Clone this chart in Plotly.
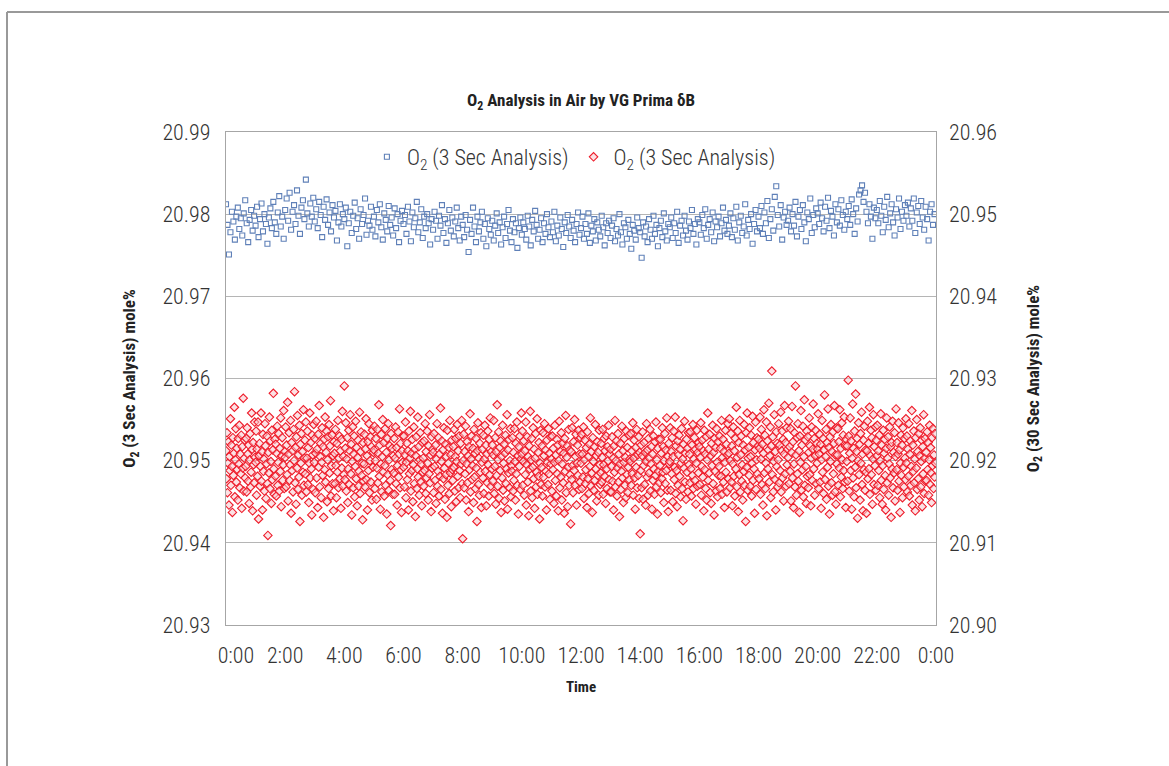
import plotly.graph_objects as go

# ---------------- data ----------------
x_tick_hours = [0, 2, 4, 6, 8, 10, 12, 14, 16, 18, 20, 22, 24]
x_tick_labels = ["\u00a0\u00a0\u00a0\u00a00:00", "2:00", "4:00", "6:00", "8:00", "10:00", "12:00",
                 "14:00", "16:00", "18:00", "20:00", "22:00", "0:00"]

left_ticks = [20.93, 20.94, 20.95, 20.96, 20.97, 20.98, 20.99]
right_ticks = [20.90, 20.91, 20.92, 20.93, 20.94, 20.95, 20.96]

# blue series (right axis, mole%), 20 readings per hour
blue_values = [
    20.9512, 20.9487, 20.9451, 20.9478, 20.9503, 20.9491, 20.9469, 20.9497, 20.9508, 20.9482, 20.9495, 20.9474, 20.9501, 20.9517, 20.9489, 20.9466, 20.9493, 20.9505, 20.9480, 20.9498,
    20.9486, 20.9509, 20.9472, 20.9494, 20.9513, 20.9479, 20.9500, 20.9488, 20.9464, 20.9496, 20.9507, 20.9483, 20.9515, 20.9490, 20.9476, 20.9502, 20.9522, 20.9485, 20.9497, 20.9470,
    20.9505, 20.9519, 20.9492, 20.9526, 20.9481, 20.9503, 20.9511, 20.9488, 20.9529, 20.9498, 20.9476, 20.9508, 20.9517, 20.9494, 20.9542, 20.9501, 20.9485, 20.9513, 20.9497, 20.9520,
    20.9491, 20.9506, 20.9483, 20.9515, 20.9499, 20.9472, 20.9509, 20.9493, 20.9518, 20.9487, 20.9502, 20.9479, 20.9511, 20.9496, 20.9504, 20.9468, 20.9490, 20.9512, 20.9485, 20.9500,
    20.9494, 20.9508, 20.9461, 20.9489, 20.9503, 20.9477, 20.9498, 20.9514, 20.9482, 20.9495, 20.9470, 20.9506, 20.9488, 20.9499, 20.9519, 20.9475, 20.9492, 20.9486, 20.9509, 20.9481,
    20.9497, 20.9473, 20.9505, 20.9490, 20.9512, 20.9484, 20.9469, 20.9501, 20.9493, 20.9479, 20.9510, 20.9487, 20.9496, 20.9474, 20.9507, 20.9483, 20.9500, 20.9466, 20.9492, 20.9504,
    20.9488, 20.9499, 20.9476, 20.9509, 20.9491, 20.9467, 20.9502, 20.9484, 20.9495, 20.9515, 20.9478, 20.9490, 20.9506, 20.9471, 20.9497, 20.9483, 20.9500, 20.9489, 20.9463, 20.9494,
    20.9481, 20.9503, 20.9492, 20.9470, 20.9498, 20.9486, 20.9511, 20.9477, 20.9494, 20.9465, 20.9489, 20.9505, 20.9480, 20.9496, 20.9473, 20.9491, 20.9508, 20.9483, 20.9468, 20.9497,
    20.9487, 20.9472, 20.9499, 20.9481, 20.9454, 20.9493, 20.9476, 20.9508, 20.9485, 20.9466, 20.9497, 20.9479, 20.9490, 20.9503, 20.9470, 20.9488, 20.9461, 20.9495, 20.9482, 20.9475,
    20.9492, 20.9468, 20.9486, 20.9501, 20.9477, 20.9490, 20.9463, 20.9484, 20.9497, 20.9471, 20.9488, 20.9505, 20.9480, 20.9466, 20.9494, 20.9478, 20.9489, 20.9459, 20.9483, 20.9496,
    20.9475, 20.9490, 20.9482, 20.9469, 20.9498, 20.9485, 20.9462, 20.9493, 20.9479, 20.9504, 20.9487, 20.9470, 20.9481, 20.9495, 20.9466, 20.9489, 20.9476, 20.9500, 20.9484, 20.9472,
    20.9491, 20.9478, 20.9503, 20.9467, 20.9486, 20.9474, 20.9496, 20.9482, 20.9460, 20.9490, 20.9477, 20.9499, 20.9485, 20.9471, 20.9493, 20.9480, 20.9466, 20.9488, 20.9502, 20.9475,
    20.9483, 20.9497, 20.9470, 20.9488, 20.9476, 20.9501, 20.9465, 20.9486, 20.9479, 20.9494, 20.9468, 20.9490, 20.9481, 20.9473, 20.9498, 20.9484, 20.9462, 20.9489, 20.9477, 20.9492,
    20.9471, 20.9486, 20.9495, 20.9467, 20.9482, 20.9474, 20.9500, 20.9478, 20.9463, 20.9489, 20.9484, 20.9470, 20.9493, 20.9476, 20.9458, 20.9487, 20.9480, 20.9469, 20.9496, 20.9483,
    20.9478, 20.9447, 20.9490, 20.9473, 20.9485, 20.9466, 20.9494, 20.9481, 20.9470, 20.9498, 20.9476, 20.9487, 20.9461, 20.9483, 20.9492, 20.9472, 20.9501, 20.9479, 20.9468, 20.9488,
    20.9484, 20.9496, 20.9471, 20.9489, 20.9477, 20.9503, 20.9465, 20.9486, 20.9492, 20.9474, 20.9498, 20.9480, 20.9469, 20.9491, 20.9483, 20.9505, 20.9476, 20.9488, 20.9463, 20.9494,
    20.9490, 20.9475, 20.9499, 20.9483, 20.9506, 20.9470, 20.9487, 20.9494, 20.9478, 20.9502, 20.9467, 20.9491, 20.9484, 20.9497, 20.9473, 20.9489, 20.9508, 20.9480, 20.9493, 20.9476,
    20.9486, 20.9501, 20.9472, 20.9495, 20.9481, 20.9509, 20.9468, 20.9490, 20.9498, 20.9477, 20.9485, 20.9512, 20.9474, 20.9493, 20.9482, 20.9500, 20.9464, 20.9488, 20.9505, 20.9479,
    20.9497, 20.9483, 20.9510, 20.9476, 20.9502, 20.9489, 20.9516, 20.9471, 20.9494, 20.9506, 20.9480, 20.9521, 20.9534, 20.9499, 20.9485, 20.9511, 20.9469, 20.9496, 20.9503, 20.9487,
    20.9492, 20.9508, 20.9479, 20.9500, 20.9486, 20.9515, 20.9473, 20.9497, 20.9505, 20.9482, 20.9511, 20.9490, 20.9467, 20.9502, 20.9494, 20.9519, 20.9477, 20.9499, 20.9484, 20.9507,
    20.9501, 20.9488, 20.9514, 20.9495, 20.9479, 20.9509, 20.9492, 20.9520, 20.9483, 20.9504, 20.9497, 20.9474, 20.9512, 20.9490, 20.9506, 20.9486, 20.9517, 20.9499, 20.9481, 20.9503,
    20.9494, 20.9510, 20.9487, 20.9518, 20.9500, 20.9476, 20.9507, 20.9491, 20.9524, 20.9529, 20.9535, 20.9515, 20.9526, 20.9503, 20.9489, 20.9512, 20.9497, 20.9470, 20.9508, 20.9495,
    20.9505, 20.9489, 20.9516, 20.9498, 20.9478, 20.9509, 20.9493, 20.9521, 20.9484, 20.9501, 20.9512, 20.9490, 20.9474, 20.9506, 20.9496, 20.9519, 20.9482, 20.9503, 20.9492, 20.9511,
    20.9498, 20.9514, 20.9485, 20.9507, 20.9492, 20.9519, 20.9477, 20.9502, 20.9510, 20.9488, 20.9516, 20.9496, 20.9481, 20.9509, 20.9494, 20.9468, 20.9503, 20.9512, 20.9487, 20.9500,
]

# red series (left axis, mole%), 60 readings per hour
red_values = [
    # 0:00
    20.9512, 20.9478, 20.9534, 20.9461, 20.9497, 20.9523, 20.9446, 20.9505, 20.9488, 20.9551, 20.9470, 20.9519, 20.9493, 20.9437, 20.9528, 20.9482, 20.9509, 20.9565, 20.9456, 20.9501,
    20.9539, 20.9474, 20.9515, 20.9489, 20.9452, 20.9527, 20.9496, 20.9543, 20.9467, 20.9508, 20.9484, 20.9531, 20.9442, 20.9517, 20.9491, 20.9576, 20.9463, 20.9503, 20.9525, 20.9479,
    20.9493, 20.9527, 20.9462, 20.9540, 20.9508, 20.9475, 20.9519, 20.9448, 20.9501, 20.9533, 20.9468, 20.9486, 20.9558, 20.9514, 20.9439, 20.9522, 20.9495, 20.9473, 20.9547, 20.9504,
    # 1:00
    20.9498, 20.9536, 20.9458, 20.9514, 20.9481, 20.9547, 20.9429, 20.9506, 20.9521, 20.9469, 20.9493, 20.9558, 20.9475, 20.9511, 20.9440, 20.9532, 20.9487, 20.9502, 20.9463, 20.9545,
    20.9518, 20.9454, 20.9496, 20.9530, 20.9472, 20.9409, 20.9510, 20.9485, 20.9553, 20.9466, 20.9524, 20.9499, 20.9448, 20.9537, 20.9477, 20.9513, 20.9582, 20.9490, 20.9459, 20.9526,
    20.9481, 20.9520, 20.9457, 20.9509, 20.9542, 20.9470, 20.9498, 20.9533, 20.9463, 20.9515, 20.9487, 20.9552, 20.9444, 20.9506, 20.9528, 20.9476, 20.9495, 20.9561, 20.9466, 20.9511,
    # 2:00
    20.9504, 20.9541, 20.9468, 20.9519, 20.9483, 20.9571, 20.9451, 20.9508, 20.9534, 20.9476, 20.9495, 20.9549, 20.9436, 20.9522, 20.9488, 20.9512, 20.9462, 20.9538, 20.9500, 20.9584,
    20.9473, 20.9516, 20.9447, 20.9529, 20.9491, 20.9555, 20.9465, 20.9507, 20.9480, 20.9543, 20.9426, 20.9520, 20.9497, 20.9533, 20.9458, 20.9511, 20.9486, 20.9562, 20.9470, 20.9503,
    20.9525, 20.9484, 20.9547, 20.9462, 20.9503, 20.9536, 20.9471, 20.9516, 20.9449, 20.9497, 20.9558, 20.9479, 20.9522, 20.9490, 20.9434, 20.9531, 20.9507, 20.9465, 20.9544, 20.9498,
    # 3:00
    20.9527, 20.9461, 20.9509, 20.9548, 20.9479, 20.9514, 20.9443, 20.9532, 20.9492, 20.9567, 20.9468, 20.9505, 20.9521, 20.9455, 20.9498, 20.9540, 20.9482, 20.9517, 20.9431, 20.9526,
    20.9489, 20.9553, 20.9474, 20.9510, 20.9536, 20.9450, 20.9501, 20.9529, 20.9466, 20.9544, 20.9485, 20.9518, 20.9573, 20.9457, 20.9494, 20.9531, 20.9472, 20.9506, 20.9439, 20.9523,
    20.9509, 20.9472, 20.9538, 20.9494, 20.9455, 20.9521, 20.9486, 20.9549, 20.9467, 20.9503, 20.9530, 20.9478, 20.9512, 20.9442, 20.9526, 20.9491, 20.9560, 20.9469, 20.9505, 20.9483,
    # 4:00
    20.9591, 20.9477, 20.9515, 20.9546, 20.9463, 20.9502, 20.9528, 20.9449, 20.9490, 20.9537, 20.9471, 20.9512, 20.9556, 20.9484, 20.9520, 20.9434, 20.9499, 20.9541, 20.9467, 20.9508,
    20.9530, 20.9456, 20.9493, 20.9548, 20.9478, 20.9516, 20.9445, 20.9504, 20.9525, 20.9469, 20.9487, 20.9559, 20.9460, 20.9511, 20.9535, 20.9482, 20.9497, 20.9428, 20.9522, 20.9475,
    20.9496, 20.9532, 20.9468, 20.9514, 20.9551, 20.9477, 20.9506, 20.9440, 20.9523, 20.9488, 20.9545, 20.9461, 20.9500, 20.9529, 20.9474, 20.9517, 20.9452, 20.9537, 20.9492, 20.9510,
    # 5:00
    20.9513, 20.9542, 20.9466, 20.9500, 20.9527, 20.9453, 20.9491, 20.9538, 20.9473, 20.9509, 20.9568, 20.9481, 20.9519, 20.9441, 20.9496, 20.9532, 20.9462, 20.9505, 20.9550, 20.9486,
    20.9522, 20.9457, 20.9494, 20.9539, 20.9470, 20.9510, 20.9435, 20.9527, 20.9483, 20.9545, 20.9464, 20.9501, 20.9518, 20.9476, 20.9421, 20.9533, 20.9489, 20.9515, 20.9459, 20.9506,
    20.9485, 20.9527, 20.9459, 20.9503, 20.9541, 20.9472, 20.9516, 20.9446, 20.9494, 20.9535, 20.9480, 20.9508, 20.9563, 20.9467, 20.9521, 20.9489, 20.9437, 20.9512, 20.9498, 20.9530,
    # 6:00
    20.9492, 20.9530, 20.9468, 20.9507, 20.9547, 20.9455, 20.9498, 20.9521, 20.9477, 20.9512, 20.9440, 20.9536, 20.9484, 20.9503, 20.9560, 20.9463, 20.9509, 20.9488, 20.9526, 20.9450,
    20.9495, 20.9541, 20.9472, 20.9514, 20.9432, 20.9506, 20.9529, 20.9466, 20.9490, 20.9553, 20.9480, 20.9517, 20.9458, 20.9501, 20.9534, 20.9474, 20.9496, 20.9445, 20.9522, 20.9486,
    20.9503, 20.9469, 20.9524, 20.9488, 20.9545, 20.9460, 20.9511, 20.9479, 20.9536, 20.9497, 20.9452, 20.9518, 20.9484, 20.9556, 20.9473, 20.9507, 20.9438, 20.9529, 20.9491, 20.9514,
    # 7:00
    20.9510, 20.9461, 20.9533, 20.9493, 20.9476, 20.9519, 20.9448, 20.9502, 20.9545, 20.9469, 20.9487, 20.9528, 20.9457, 20.9508, 20.9481, 20.9564, 20.9465, 20.9499, 20.9524, 20.9436,
    20.9513, 20.9478, 20.9540, 20.9491, 20.9453, 20.9520, 20.9483, 20.9505, 20.9431, 20.9537, 20.9470, 20.9497, 20.9516, 20.9460, 20.9549, 20.9485, 20.9507, 20.9444, 20.9525, 20.9489,
    20.9476, 20.9517, 20.9492, 20.9538, 20.9463, 20.9505, 20.9527, 20.9450, 20.9499, 20.9544, 20.9481, 20.9512, 20.9467, 20.9530, 20.9488, 20.9455, 20.9521, 20.9496, 20.9549, 20.9472,
    # 8:00
    20.9405, 20.9500, 20.9532, 20.9467, 20.9511, 20.9484, 20.9542, 20.9452, 20.9496, 20.9523, 20.9473, 20.9506, 20.9438, 20.9517, 20.9489, 20.9557, 20.9462, 20.9502, 20.9530, 20.9477,
    20.9494, 20.9515, 20.9449, 20.9538, 20.9480, 20.9509, 20.9466, 20.9527, 20.9491, 20.9426, 20.9512, 20.9546, 20.9471, 20.9503, 20.9458, 20.9521, 20.9486, 20.9534, 20.9443, 20.9498,
    20.9514, 20.9479, 20.9531, 20.9460, 20.9502, 20.9543, 20.9487, 20.9519, 20.9445, 20.9508, 20.9473, 20.9536, 20.9495, 20.9457, 20.9526, 20.9483, 20.9552, 20.9469, 20.9511, 20.9490,
    # 9:00
    20.9519, 20.9475, 20.9507, 20.9549, 20.9460, 20.9493, 20.9528, 20.9447, 20.9511, 20.9482, 20.9568, 20.9469, 20.9501, 20.9535, 20.9454, 20.9516, 20.9488, 20.9524, 20.9437, 20.9505,
    20.9479, 20.9543, 20.9464, 20.9497, 20.9520, 20.9451, 20.9509, 20.9531, 20.9472, 20.9490, 20.9556, 20.9441, 20.9513, 20.9485, 20.9526, 20.9467, 20.9500, 20.9539, 20.9456, 20.9494,
    20.9487, 20.9528, 20.9463, 20.9510, 20.9476, 20.9539, 20.9499, 20.9452, 20.9521, 20.9484, 20.9547, 20.9470, 20.9506, 20.9435, 20.9517, 20.9493, 20.9530, 20.9465, 20.9502, 20.9558,
    # 10:00
    20.9508, 20.9536, 20.9470, 20.9499, 20.9524, 20.9458, 20.9512, 20.9483, 20.9547, 20.9446, 20.9495, 20.9529, 20.9474, 20.9505, 20.9433, 20.9518, 20.9490, 20.9560, 20.9463, 20.9501,
    20.9527, 20.9455, 20.9492, 20.9540, 20.9478, 20.9514, 20.9442, 20.9503, 20.9533, 20.9468, 20.9486, 20.9551, 20.9459, 20.9510, 20.9481, 20.9522, 20.9429, 20.9497, 20.9537, 20.9471,
    20.9492, 20.9518, 20.9457, 20.9534, 20.9480, 20.9506, 20.9545, 20.9468, 20.9513, 20.9487, 20.9440, 20.9525, 20.9498, 20.9471, 20.9539, 20.9484, 20.9509, 20.9453, 20.9529, 20.9496,
    # 11:00
    20.9502, 20.9463, 20.9530, 20.9489, 20.9515, 20.9448, 20.9498, 20.9543, 20.9476, 20.9507, 20.9457, 20.9526, 20.9484, 20.9519, 20.9439, 20.9500, 20.9548, 20.9467, 20.9511, 20.9480,
    20.9534, 20.9452, 20.9496, 20.9521, 20.9473, 20.9509, 20.9436, 20.9527, 20.9487, 20.9555, 20.9461, 20.9504, 20.9518, 20.9444, 20.9492, 20.9538, 20.9470, 20.9513, 20.9483, 20.9423,
    20.9511, 20.9477, 20.9540, 20.9494, 20.9461, 20.9523, 20.9488, 20.9550, 20.9470, 20.9505, 20.9532, 20.9446, 20.9497, 20.9519, 20.9482, 20.9537, 20.9465, 20.9508, 20.9474, 20.9528,
    # 12:00
    20.9497, 20.9532, 20.9466, 20.9508, 20.9480, 20.9541, 20.9454, 20.9501, 20.9525, 20.9472, 20.9489, 20.9516, 20.9443, 20.9535, 20.9478, 20.9505, 20.9460, 20.9520, 20.9493, 20.9552,
    20.9469, 20.9511, 20.9485, 20.9437, 20.9528, 20.9499, 20.9464, 20.9517, 20.9476, 20.9544, 20.9490, 20.9506, 20.9451, 20.9523, 20.9482, 20.9510, 20.9458, 20.9537, 20.9495, 20.9471,
    20.9485, 20.9521, 20.9474, 20.9504, 20.9538, 20.9459, 20.9495, 20.9527, 20.9481, 20.9512, 20.9448, 20.9530, 20.9490, 20.9466, 20.9517, 20.9500, 20.9543, 20.9477, 20.9508, 20.9462,
    # 13:00
    20.9514, 20.9462, 20.9493, 20.9529, 20.9475, 20.9503, 20.9440, 20.9518, 20.9486, 20.9549, 20.9468, 20.9500, 20.9524, 20.9457, 20.9491, 20.9533, 20.9474, 20.9508, 20.9432, 20.9496,
    20.9521, 20.9465, 20.9487, 20.9542, 20.9479, 20.9512, 20.9449, 20.9498, 20.9527, 20.9470, 20.9504, 20.9455, 20.9536, 20.9483, 20.9516, 20.9461, 20.9492, 20.9531, 20.9477, 20.9502,
    20.9499, 20.9533, 20.9470, 20.9512, 20.9484, 20.9546, 20.9458, 20.9503, 20.9525, 20.9479, 20.9441, 20.9516, 20.9492, 20.9538, 20.9467, 20.9507, 20.9482, 20.9529, 20.9454, 20.9510,
    # 14:00
    20.9411, 20.9488, 20.9519, 20.9467, 20.9506, 20.9535, 20.9453, 20.9494, 20.9522, 20.9471, 20.9510, 20.9446, 20.9499, 20.9545, 20.9480, 20.9513, 20.9458, 20.9527, 20.9485, 20.9503,
    20.9538, 20.9463, 20.9496, 20.9517, 20.9441, 20.9508, 20.9476, 20.9530, 20.9490, 20.9459, 20.9523, 20.9482, 20.9547, 20.9468, 20.9501, 20.9435, 20.9515, 20.9487, 20.9526, 20.9473,
    20.9494, 20.9526, 20.9461, 20.9509, 20.9478, 20.9540, 20.9486, 20.9517, 20.9449, 20.9500, 20.9533, 20.9472, 20.9513, 20.9488, 20.9552, 20.9464, 20.9505, 20.9438, 20.9521, 20.9496,
    # 15:00
    20.9499, 20.9540, 20.9464, 20.9511, 20.9484, 20.9528, 20.9450, 20.9505, 20.9536, 20.9477, 20.9492, 20.9553, 20.9460, 20.9518, 20.9488, 20.9444, 20.9524, 20.9470, 20.9507, 20.9531,
    20.9481, 20.9514, 20.9456, 20.9497, 20.9539, 20.9466, 20.9502, 20.9427, 20.9520, 20.9491, 20.9548, 20.9474, 20.9509, 20.9453, 20.9526, 20.9486, 20.9515, 20.9462, 20.9534, 20.9495,
    20.9508, 20.9473, 20.9535, 20.9490, 20.9457, 20.9519, 20.9482, 20.9544, 20.9466, 20.9502, 20.9528, 20.9476, 20.9514, 20.9447, 20.9497, 20.9537, 20.9469, 20.9510, 20.9485, 20.9522,
    # 16:00
    20.9517, 20.9471, 20.9504, 20.9546, 20.9458, 20.9493, 20.9525, 20.9480, 20.9512, 20.9439, 20.9537, 20.9489, 20.9508, 20.9466, 20.9529, 20.9452, 20.9501, 20.9558, 20.9476, 20.9514,
    20.9485, 20.9532, 20.9461, 20.9506, 20.9448, 20.9521, 20.9494, 20.9543, 20.9472, 20.9510, 20.9434, 20.9527, 20.9487, 20.9516, 20.9463, 20.9539, 20.9498, 20.9456, 20.9523, 20.9482,
    20.9493, 20.9530, 20.9466, 20.9515, 20.9481, 20.9549, 20.9459, 20.9504, 20.9526, 20.9474, 20.9511, 20.9443, 20.9498, 20.9537, 20.9486, 20.9520, 20.9462, 20.9507, 20.9545, 20.9478,
    # 17:00
    20.9509, 20.9551, 20.9467, 20.9500, 20.9533, 20.9474, 20.9518, 20.9445, 20.9496, 20.9541, 20.9481, 20.9512, 20.9457, 20.9527, 20.9490, 20.9565, 20.9468, 20.9504, 20.9536, 20.9438,
    20.9522, 20.9483, 20.9549, 20.9462, 20.9507, 20.9530, 20.9475, 20.9495, 20.9452, 20.9519, 20.9487, 20.9544, 20.9470, 20.9513, 20.9426, 20.9534, 20.9492, 20.9558, 20.9464, 20.9503,
    20.9516, 20.9482, 20.9540, 20.9469, 20.9505, 20.9531, 20.9457, 20.9497, 20.9554, 20.9476, 20.9522, 20.9490, 20.9436, 20.9513, 20.9547, 20.9465, 20.9501, 20.9528, 20.9484, 20.9518,
    # 18:00
    20.9526, 20.9478, 20.9515, 20.9553, 20.9459, 20.9502, 20.9538, 20.9471, 20.9520, 20.9446, 20.9509, 20.9562, 20.9485, 20.9531, 20.9466, 20.9497, 20.9547, 20.9433, 20.9524, 20.9490,
    20.9513, 20.9570, 20.9474, 20.9506, 20.9541, 20.9455, 20.9518, 20.9609, 20.9483, 20.9529, 20.9462, 20.9499, 20.9556, 20.9477, 20.9511, 20.9440, 20.9535, 20.9493, 20.9521, 20.9468,
    20.9501, 20.9545, 20.9473, 20.9519, 20.9488, 20.9559, 20.9462, 20.9512, 20.9536, 20.9479, 20.9526, 20.9451, 20.9508, 20.9567, 20.9484, 20.9522, 20.9469, 20.9540, 20.9495, 20.9514,
    # 19:00
    20.9504, 20.9548, 20.9472, 20.9517, 20.9487, 20.9539, 20.9451, 20.9510, 20.9566, 20.9479, 20.9523, 20.9443, 20.9496, 20.9534, 20.9468, 20.9591, 20.9507, 20.9458, 20.9528, 20.9484,
    20.9545, 20.9475, 20.9512, 20.9437, 20.9530, 20.9498, 20.9561, 20.9464, 20.9519, 20.9489, 20.9542, 20.9456, 20.9505, 20.9574, 20.9470, 20.9525, 20.9493, 20.9448, 20.9536, 20.9481,
    20.9529, 20.9467, 20.9510, 20.9552, 20.9483, 20.9518, 20.9445, 20.9503, 20.9541, 20.9476, 20.9514, 20.9569, 20.9490, 20.9527, 20.9458, 20.9506, 20.9537, 20.9472, 20.9521, 20.9497,
    # 20:00
    20.9514, 20.9557, 20.9466, 20.9508, 20.9532, 20.9474, 20.9520, 20.9442, 20.9501, 20.9549, 20.9486, 20.9527, 20.9460, 20.9513, 20.9580, 20.9477, 20.9505, 20.9538, 20.9453, 20.9522,
    20.9492, 20.9563, 20.9469, 20.9516, 20.9435, 20.9529, 20.9499, 20.9544, 20.9473, 20.9511, 20.9458, 20.9535, 20.9484, 20.9521, 20.9567, 20.9462, 20.9507, 20.9447, 20.9540, 20.9496,
    20.9507, 20.9539, 20.9470, 20.9523, 20.9491, 20.9562, 20.9456, 20.9515, 20.9480, 20.9546, 20.9501, 20.9466, 20.9531, 20.9488, 20.9553, 20.9474, 20.9518, 20.9443, 20.9526, 20.9499,
    # 21:00
    20.9518, 20.9475, 20.9598, 20.9530, 20.9463, 20.9509, 20.9552, 20.9488, 20.9524, 20.9441, 20.9503, 20.9569, 20.9479, 20.9515, 20.9456, 20.9536, 20.9492, 20.9581, 20.9467, 20.9511,
    20.9527, 20.9430, 20.9500, 20.9546, 20.9483, 20.9520, 20.9452, 20.9533, 20.9497, 20.9559, 20.9471, 20.9508, 20.9439, 20.9525, 20.9489, 20.9542, 20.9464, 20.9513, 20.9486, 20.9436,
    20.9512, 20.9548, 20.9478, 20.9521, 20.9490, 20.9565, 20.9459, 20.9506, 20.9537, 20.9483, 20.9528, 20.9447, 20.9502, 20.9556, 20.9471, 20.9517, 20.9494, 20.9541, 20.9464, 20.9525,
    # 22:00
    20.9506, 20.9543, 20.9470, 20.9512, 20.9488, 20.9531, 20.9455, 20.9500, 20.9557, 20.9476, 20.9519, 20.9447, 20.9494, 20.9537, 20.9465, 20.9509, 20.9526, 20.9482, 20.9440, 20.9515,
    20.9552, 20.9473, 20.9503, 20.9529, 20.9458, 20.9496, 20.9541, 20.9479, 20.9517, 20.9431, 20.9522, 20.9490, 20.9548, 20.9467, 20.9510, 20.9485, 20.9534, 20.9451, 20.9505, 20.9563,
    20.9489, 20.9522, 20.9464, 20.9508, 20.9546, 20.9475, 20.9513, 20.9437, 20.9497, 20.9531, 20.9482, 20.9519, 20.9455, 20.9540, 20.9492, 20.9468, 20.9527, 20.9503, 20.9477, 20.9551,
    # 23:00
    20.9497, 20.9530, 20.9462, 20.9514, 20.9481, 20.9545, 20.9457, 20.9508, 20.9524, 20.9470, 20.9493, 20.9561, 20.9446, 20.9519, 20.9487, 20.9536, 20.9473, 20.9502, 20.9439, 20.9528,
    20.9491, 20.9550, 20.9465, 20.9511, 20.9478, 20.9533, 20.9452, 20.9506, 20.9540, 20.9468, 20.9499, 20.9525, 20.9444, 20.9517, 20.9484, 20.9556, 20.9460, 20.9503, 20.9527, 20.9475,
    20.9510, 20.9476, 20.9535, 20.9489, 20.9522, 20.9458, 20.9501, 20.9543, 20.9471, 20.9516, 20.9485, 20.9449, 20.9528, 20.9494, 20.9539, 20.9466, 20.9507, 20.9480, 20.9533, 20.9497,
]

# sampling times (hours since midnight), evenly spaced readings
blue_hours = [i * 24 / len(blue_values) for i in range(len(blue_values))]
red_hours = [i * 24 / len(red_values) for i in range(len(red_values))]

legend_name = "O<sub>2</sub> (3 Sec Analysis)"

# ---------------- figure ----------------
FONT = "Liberation Sans Narrow, Roboto Condensed, Arial Narrow, Roboto, sans-serif"

fig = go.Figure()
fig.add_trace(go.Scatter(
    x=blue_hours, y=blue_values, yaxis="y2", mode="markers", name=legend_name,
    marker=dict(symbol="square-open", size=5, color="#5f80b8", line=dict(width=1.1)),
))
fig.add_trace(go.Scatter(
    x=red_hours, y=red_values, yaxis="y", mode="markers", name=legend_name,
    marker=dict(symbol="diamond", size=6.5, color="rgba(250,200,205,0.55)",
                line=dict(width=1.1, color="#ee1c2a")),
))

W, H = 1169, 766
L, R, T, B = 226, 936, 132, 625
pw, ph = R - L, B - T

def px(xp):
    return (xp - L) / pw

def py(yp):
    return (B - yp) / ph

fig.update_layout(
    width=W, height=H,
    margin=dict(l=L, r=W - R, t=T, b=H - B, autoexpand=False),
    paper_bgcolor="white", plot_bgcolor="white",
    font=dict(family=FONT, color="#333333"),
    title=dict(text="<b>O<sub>2</sub> Analysis in Air by VG Prima δB</b>",
               x=0.5, xanchor="center", xref="paper",
               y=1 - 100 / H, yanchor="middle",
               font=dict(size=17, color="#222222", family=FONT)),
    showlegend=True,
    legend=dict(orientation="h", x=0.49, xanchor="center", y=py(157), yanchor="middle",
                font=dict(size=22, color="#333333", family=FONT, weight=300),
                bgcolor="rgba(255,255,255,0)", itemsizing="trace"),
    xaxis=dict(range=[0, 24], tickvals=x_tick_hours, ticktext=x_tick_labels,
               showgrid=False, zeroline=False, ticks="",
               showline=True, mirror=True, linecolor="#a6a6a6", linewidth=1.3,
               tickfont=dict(size=22, color="#333333", family=FONT, weight=300),
               ticklabelstandoff=10,
               title=dict(text="<b>Time</b>", font=dict(size=15, color="#222222", family=FONT),
                          standoff=14)),
    yaxis=dict(range=[20.93, 20.99], tickvals=left_ticks, tickformat=".2f",
               showgrid=True, gridcolor="#b5b5b5", gridwidth=1.3, zeroline=False, ticks="",
               showline=True, mirror=True, linecolor="#a6a6a6", linewidth=1.3,
               tickfont=dict(size=22, color="#333333", family=FONT, weight=300),
               ticklabelstandoff=10,
               title=dict(text="<b>O<sub>2</sub> (3 Sec Analysis) mole%</b>",
                          font=dict(size=17, color="#222222", family=FONT), standoff=22)),
    yaxis2=dict(range=[20.90, 20.96], tickvals=right_ticks, tickformat=".2f",
                overlaying="y", side="right", showgrid=False, zeroline=False, ticks="",
                showline=False,
                tickfont=dict(size=22, color="#333333", family=FONT, weight=300),
                ticklabelstandoff=12,
                title=dict(text="<b>O<sub>2</sub> (30 Sec Analysis) mole%</b>",
                           font=dict(size=17, color="#222222", family=FONT), standoff=30)),
    shapes=[
        dict(type="line", xref="paper", yref="paper", x0=px(7), x1=px(1175), y0=py(12), y1=py(12),
             line=dict(color="#999999", width=2)),
        dict(type="line", xref="paper", yref="paper", x0=px(7), x1=px(7), y0=py(12), y1=py(775),
             line=dict(color="#999999", width=2)),
    ],
)

fig.write_html("out.html", config={"displayModeBar": False},
               post_script="document.body.style.margin='0';document.body.style.overflow='hidden';")
